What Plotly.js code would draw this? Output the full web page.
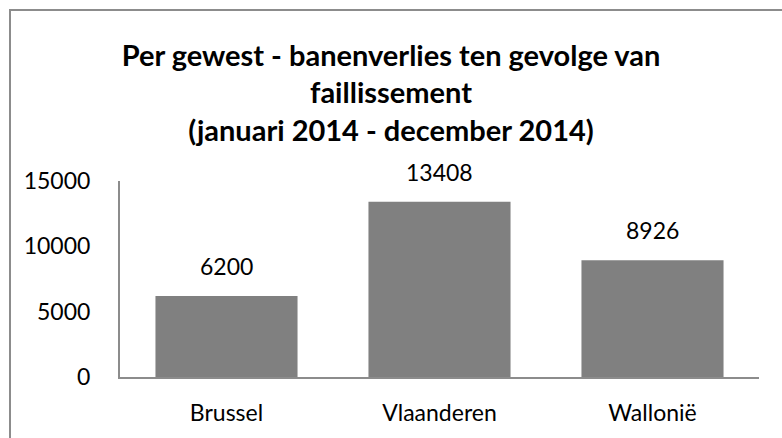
<!DOCTYPE html>
<html>
<head>
<meta charset="utf-8">
<script src="https://cdn.plot.ly/plotly-3.0.1.min.js"></script>
<style>
  body { margin: 0; padding: 0; background: #fff; }
  #graph { position: absolute; left: 0; top: 0; width: 782px; height: 438px; }
  /* chart frame, as in the original spreadsheet export */
  #frame { position: absolute; left: 9px; top: 9px; width: 800px; height: 500px;
           border: 2px solid #8c8c8c; pointer-events: none; }
</style>
</head>
<body>
<div id="graph"></div>
<div id="frame"></div>
<script>
var regions = ['Brussel', 'Vlaanderen', 'Wallonië'];
var jobsLost = [6200, 13408, 8926];
var yTicks = [0, 5000, 10000, 15000];

var font = 'Lato, "Open Sans", sans-serif';

let data = [{
    type: 'bar',
    x: regions,
    y: jobsLost,
    marker: {color: '#808080'},
    hoverinfo: 'x+y'
}];

// value labels above each bar
let labels = regions.map(function (r, i) {
    return {
        x: r, y: jobsLost[i], xref: 'x', yref: 'y',
        text: String(jobsLost[i]),
        showarrow: false,
        yanchor: 'bottom',
        yshift: 14,
        font: {family: font, size: 23, color: '#000'}
    };
});

let layout = {
    width: 782,
    height: 438,
    margin: {l: 120, r: 23, t: 181, b: 61},
    paper_bgcolor: '#fff',
    plot_bgcolor: '#fff',
    bargap: 0.333,
    title: {
        text: '<b>Per gewest - banenverlies ten gevolge van<br>faillissement<br>(januari 2014 - december 2014)</b>',
        font: {family: font, size: 29, color: '#000'},
        x: 0.5, xanchor: 'center',
        y: 0.85, yanchor: 'top'
    },
    xaxis: {
        showline: true, linecolor: '#8c8c8c', linewidth: 2,
        ticks: '', showgrid: false,
        ticklabelstandoff: 14,
        tickfont: {family: font, size: 23, color: '#000'}
    },
    yaxis: {
        range: [0, 15000],
        tickvals: yTicks,
        ticktext: yTicks.map(String),
        showline: true, linecolor: '#8c8c8c', linewidth: 2,
        ticks: '', showgrid: false, zeroline: false,
        ticklabelstandoff: 23,
        tickfont: {family: font, size: 23, color: '#000'}
    },
    annotations: labels,
    showlegend: false
};

Plotly.newPlot('graph', data, layout, {displayModeBar: false, staticPlot: true});
</script>
</body>
</html>
